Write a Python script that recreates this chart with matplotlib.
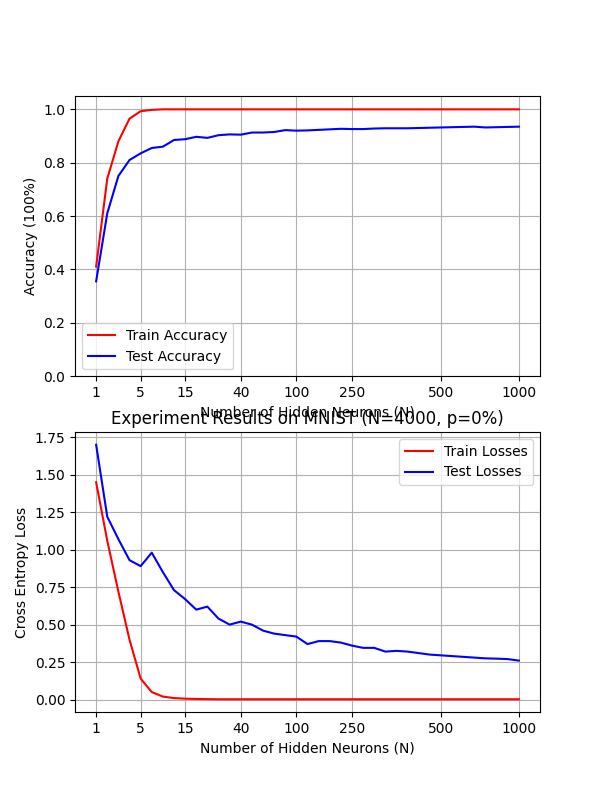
import matplotlib
matplotlib.use('Agg')
from matplotlib import pyplot as plt

# hidden layer sizes, plotted against their index
neurons = [1, 2, 3, 4, 5, 7, 10, 12, 15, 20, 25, 30, 35, 40, 50, 60, 70, 80, 100,
           125, 150, 175, 200, 250, 280, 310, 340, 370, 400, 430, 460, 500,
           600, 700, 750, 800, 850, 900, 1000]
tick_labels = [1, 5, 15, 40, 100, 250, 500, 1000]

train_acc = [0.41, 0.74, 0.88, 0.965, 0.993, 0.998] + [1.0] * 33
test_acc = [0.355, 0.61, 0.75, 0.81, 0.835, 0.855, 0.86, 0.885, 0.888, 0.897,
            0.893, 0.903, 0.906, 0.905, 0.913, 0.913, 0.915, 0.922, 0.92, 0.921,
            0.923, 0.925, 0.927, 0.926, 0.926, 0.928, 0.929, 0.929, 0.929, 0.930,
            0.931, 0.932, 0.933, 0.934, 0.935, 0.934, 0.933, 0.932, 0.932][:39]
test_acc = test_acc[:35] + [0.932, 0.933, 0.934, 0.935]

train_loss = [1.45, 1.06, 0.72, 0.40, 0.14, 0.05, 0.02, 0.01, 0.006, 0.004,
              0.003] + [0.002] * 28
test_loss = [1.70, 1.22, 1.07, 0.93, 0.89, 0.98, 0.85, 0.73, 0.67, 0.60,
             0.62, 0.54, 0.50, 0.52, 0.50, 0.46, 0.44, 0.43, 0.42, 0.37,
             0.39, 0.39, 0.38, 0.36, 0.345, 0.345, 0.32, 0.325, 0.32, 0.31,
             0.30, 0.295, 0.29, 0.285, 0.28, 0.275, 0.273, 0.27, 0.26]

idx = list(range(len(neurons)))
tick_pos = [neurons.index(n) for n in tick_labels]

fig = plt.figure(figsize=(6, 8), dpi=100)

ax1 = plt.subplot(2, 1, 1)
ax1.plot(idx, train_acc, 'r-', label='Train Accuracy')
ax1.plot(idx, test_acc, 'b-', label='Test Accuracy')
ax1.set_ylim(0, 1.05)
ax1.set_xticks(tick_pos)
ax1.set_xticklabels([str(t) for t in tick_labels])
ax1.set_xlabel('Number of Hidden Neurons (N)')
ax1.set_ylabel('Accuracy (100%)')
ax1.grid(True)
ax1.legend(loc='lower left')

ax2 = plt.subplot(2, 1, 2)
ax2.plot(idx, train_loss, 'r-', label='Train Losses')
ax2.plot(idx, test_loss, 'b-', label='Test Losses')
ax2.set_xticks(tick_pos)
ax2.set_xticklabels([str(t) for t in tick_labels])
ax2.set_xlabel('Number of Hidden Neurons (N)')
ax2.set_ylabel('Cross Entropy Loss')
ax2.set_title('Experiment Results on MNIST (N=4000, p=0%)')
ax2.grid(True)
ax2.legend(loc='upper right')

plt.savefig('out.png')
